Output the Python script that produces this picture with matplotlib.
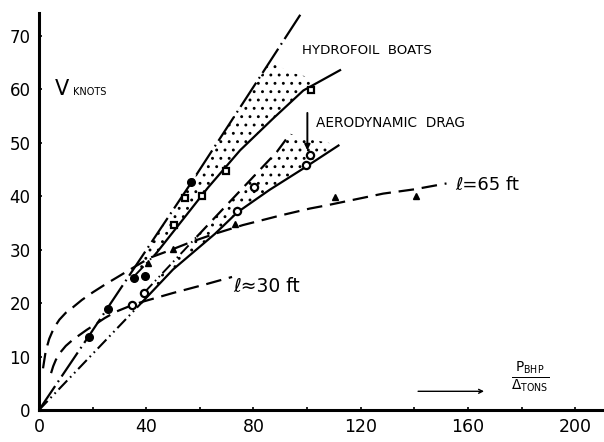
import matplotlib
matplotlib.use("Agg")
import matplotlib.pyplot as plt
import numpy as np

# ---------------- data ----------------
# Hydrofoil band (upper band)
hyd_top_x = [0, 18.8, 56.6, 97.5]
hyd_top_y = [0, 14.0, 42.4, 74.0]
hyd_bot_x = [36, 44, 51.4, 63, 75, 87, 98.6, 112.3]
hyd_bot_y = [25.3, 29.5, 34.2, 41.6, 48.6, 54.4, 59.8, 63.6]
hyd_cap_x = [86, 95, 103]
hyd_cap_y = [64.0, 63.0, 62.0]

# Aerodynamic-drag band (lower band)
aero_top_x = [39.3, 58.8, 88.7, 93.7]
aero_top_y = [22.0, 32.4, 48.3, 51.7]
aero_base_x = [0, 38.5]
aero_base_y = [0, 20.2]
aero_bot_x = [38.5, 50, 65.7, 74, 86, 98.6, 111.7]
aero_bot_y = [20.2, 26.3, 33.0, 37.0, 41.2, 45.2, 49.5]
aero_cap_x = [93.7, 102, 110]
aero_cap_y = [51.7, 50.6, 49.8]

# Planing boats, l = 65 ft and l = 30 ft
l65_x = [1.5, 2.5, 3.8, 5.5, 7.6, 10, 12.6, 16, 20, 25, 28.7, 34, 41.4, 48.9, 57,
         65.7, 76, 90, 101, 107.3, 128.4, 140, 152]
l65_y = [7.8, 11.0, 13.3, 15.3, 16.9, 18.2, 19.2, 20.6, 22.0, 23.6, 24.7, 26.3, 28.5,
         29.9, 31.5, 33.0, 34.6, 36.4, 37.7, 38.3, 40.5, 41.3, 42.4]
l30_x = [4.5, 5.3, 6.3, 8, 10, 12.5, 15, 17.8, 20.6, 24.5, 28.7, 34.6, 38.9, 50, 62, 72]
l30_y = [6.9, 8.2, 9.4, 10.8, 12.0, 13.1, 14.0, 15.0, 15.9, 17.2, 18.4, 19.6, 20.3,
         21.9, 23.5, 24.9]

# measured points
filled_circ_x = [18.8, 25.6, 35.6, 39.6, 56.6]
filled_circ_y = [13.7, 18.9, 24.7, 25.1, 42.7]
open_circ_x = [34.6, 39.3, 74.0, 80.2, 99.6, 101.1]
open_circ_y = [19.6, 21.9, 37.2, 41.7, 45.9, 47.7]
square_x = [50.4, 54.5, 60.7, 69.8, 101.4]
square_y = [34.6, 39.7, 40.1, 44.7, 59.9]
tri_x = [40.8, 49.8, 73.1, 110.4, 140.7]
tri_y = [27.6, 30.2, 34.9, 39.9, 40.0]

y_ticks = [0, 10, 20, 30, 40, 50, 60, 70]
x_ticks = [0, 40, 80, 120, 160, 200]
x_minor = [20, 60, 100, 140, 180]

# ---------------- figure ----------------
plt.rcParams["font.family"] = ["DejaVu Sans"]
plt.rcParams["hatch.color"] = "black"
plt.rcParams["hatch.linewidth"] = 0.9

fig = plt.figure(figsize=(6.04, 4.42), dpi=100)
ax = fig.add_axes([39 / 604, 32 / 442, 563 / 604, 397 / 442])
ax.set_xlim(0, 210)
ax.set_ylim(0, 74.3)

for s in ["top", "right"]:
    ax.spines[s].set_visible(False)
for s in ["left", "bottom"]:
    ax.spines[s].set_linewidth(2.2)

ax.set_xticks(x_ticks)
ax.set_xticks(x_minor, minor=True)
ax.set_xticklabels([str(t) for t in x_ticks], fontsize=12.5)
ax.set_yticks(y_ticks)
ax.set_yticklabels([str(t) for t in y_ticks], fontsize=12)
ax.tick_params(axis="both", which="both", direction="in", length=2.5, width=1.2)
ax.tick_params(axis="x", pad=6)
ax.tick_params(axis="y", pad=6)

k = "black"
dashdot = (0, (13, 2.2, 0.8, 2.2))
dashdotdot = (0, (6, 2, 0.8, 2, 0.8, 2))
dashed = (0, (7, 3.5))

# stippled regions
def band_poly(top_x, top_y, bot_x, bot_y, cap_x, cap_y, x0):
    xt = np.linspace(x0, cap_x[0], 30)
    yt = np.interp(xt, top_x, top_y)
    xb = np.linspace(cap_x[-1], x0, 30)
    yb = np.interp(xb, bot_x, bot_y)
    px = np.concatenate([xt, cap_x[1:], xb])
    py = np.concatenate([yt, cap_y[1:], yb])
    return px, py

px, py = band_poly(hyd_top_x, hyd_top_y, hyd_bot_x, hyd_bot_y, hyd_cap_x, hyd_cap_y, 36.5)
ax.fill(px, py, facecolor="none", edgecolor=k, linewidth=0, hatch="..")
px, py = band_poly(aero_top_x, aero_top_y, aero_bot_x, aero_bot_y, aero_cap_x, aero_cap_y, 42)
ax.fill(px, py, facecolor="none", edgecolor=k, linewidth=0, hatch="..")

# band boundaries
ax.plot(hyd_top_x, hyd_top_y, color=k, lw=1.6, linestyle=dashdot)
ax.plot(hyd_bot_x[:2], hyd_bot_y[:2], color=k, lw=1.4, linestyle=dashdotdot)
ax.plot(hyd_bot_x[1:], hyd_bot_y[1:], color=k, lw=1.6)
ax.plot(aero_base_x, aero_base_y, color=k, lw=1.5, linestyle=dashdotdot)
ax.plot(aero_bot_x, aero_bot_y, color=k, lw=1.6)
ax.plot(aero_top_x[:2], aero_top_y[:2], color=k, lw=1.4, linestyle=dashdotdot)
ax.plot(aero_top_x[1:], aero_top_y[1:], color=k, lw=1.6, linestyle=dashed)

# planing-boat curves
ax.plot(l65_x, l65_y, color=k, lw=1.6, linestyle=dashed)
ax.plot(l30_x, l30_y, color=k, lw=1.6, linestyle=dashed)

# points
ax.plot(filled_circ_x, filled_circ_y, "o", color=k, ms=5.5, zorder=5)
ax.plot(open_circ_x, open_circ_y, "o", mfc="white", mec=k, mew=1.6, ms=5.2, zorder=5)
ax.plot(square_x, square_y, "s", mfc="white", mec=k, mew=1.6, ms=4.4, zorder=5)
ax.plot(tri_x, tri_y, "^", color=k, ms=4.6, zorder=5)

# annotations
ax.text(98, 67.3, "HYDROFOIL  BOATS", fontsize=9.6, ha="left", va="center")
ax.text(103.4, 53.7, "AERODYNAMIC  DRAG", fontsize=9.8, ha="left", va="center")
ax.annotate("", xy=(100.1, 48.6), xytext=(100.1, 55.6),
            arrowprops=dict(arrowstyle="-|>", lw=1.4, color=k, mutation_scale=8,
                            shrinkA=0, shrinkB=0))
ax.text(5.8, 58.9, "V", fontsize=15, ha="left", va="baseline")
ax.text(12.6, 58.9, "KNOTS", fontsize=7, ha="left", va="baseline")
ax.text(155.2, 42.2, "ℓ=65 ft", fontsize=13, ha="left", va="center")
ax.text(72.6, 23.2, "ℓ≈30 ft", fontsize=13.5, ha="left", va="center")
ax.text(183.2, 6.3, r"$\frac{\mathsf{P}_{\mathsf{BHP}}}{\mathsf{\Delta}_{\mathsf{TONS}}}$",
        fontsize=14, ha="center", va="center")
ax.annotate("", xy=(166, 3.5), xytext=(141.4, 3.5),
            arrowprops=dict(arrowstyle="->", lw=1.0, color=k, mutation_scale=7,
                            shrinkA=0, shrinkB=0))

fig.savefig("out.png", dpi=100)
